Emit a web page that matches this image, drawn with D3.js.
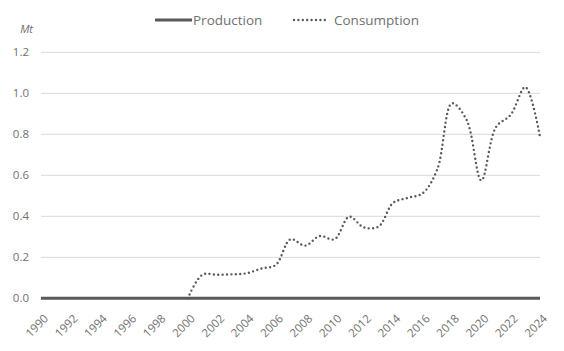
<!DOCTYPE html>
<html>
<head>
<meta charset="utf-8">
<script src="https://cdn.jsdelivr.net/npm/d3@7"></script>
<style>
  body { margin: 0; background: #fff; }
  svg { display: block; font-family: "Open Sans", sans-serif; }
</style>
</head>
<body>
<svg class="main" width="564" height="351"></svg>
<script>
const years = d3.range(1990, 2025);
const production = years.map(() => 0);
const consumptionYears = d3.range(2000, 2025);
const consumption = [
  0, 0.115, 0.115, 0.117, 0.122, 0.145, 0.163, 0.288, 0.257, 0.304,
  0.288, 0.398, 0.346, 0.35, 0.466, 0.49, 0.512, 0.629, 0.951, 0.87,
  0.575, 0.835, 0.895, 1.03, 0.788
];
const yTicks = [0, 0.2, 0.4, 0.6, 0.8, 1.0, 1.2];
const xTicks = d3.range(1990, 2025, 2);

const layout = { left: 41, right: 540, top: 52.3, bottom: 298.3 };
const ink = "#595959";
const labelInk = "#707070";

const svg = d3.select(".main");

const x = d3.scaleLinear().domain([1990, 2024]).range([layout.left, layout.right]);
const y = d3.scaleLinear().domain([0, 1.2]).range([layout.bottom, layout.top]);

// gridlines
svg.append("g")
  .selectAll("line")
  .data(yTicks.filter(d => d > 0))
  .join("line")
  .attr("x1", layout.left)
  .attr("x2", layout.right)
  .attr("y1", d => y(d))
  .attr("y2", d => y(d))
  .attr("stroke", "#d9d9d9")
  .attr("stroke-width", 1);

// y labels
svg.append("g")
  .selectAll("text")
  .data(yTicks)
  .join("text")
  .attr("x", 29)
  .attr("y", d => y(d))
  .attr("dy", "0.35em")
  .attr("text-anchor", "end")
  .attr("font-size", 11.5)
  .attr("fill", labelInk)
  .text(d => d.toFixed(1));

svg.append("text")
  .attr("x", 33)
  .attr("y", 33)
  .attr("text-anchor", "end")
  .attr("font-size", 11)
  .attr("font-style", "italic")
  .attr("fill", labelInk)
  .text("Mt");

// x labels, rotated
svg.append("g")
  .selectAll("text")
  .data(xTicks)
  .join("text")
  .attr("transform", d => `translate(${x(d) + 8},${layout.bottom + 21}) rotate(-45)`)
  .attr("text-anchor", "end")
  .attr("font-size", 11.5)
  .attr("fill", labelInk)
  .text(d => d);

const line = d3.line()
  .x(d => x(d[0]))
  .y(d => y(d[1]))
  .curve(d3.curveCatmullRom.alpha(0.5));

// consumption, dotted
svg.append("path")
  .datum(consumptionYears.map((yr, i) => [yr, consumption[i]]))
  .attr("d", line)
  .attr("fill", "none")
  .attr("stroke", ink)
  .attr("stroke-width", 2.4)
  .attr("stroke-linecap", "round")
  .attr("stroke-dasharray", "0 4.4");

// production
svg.append("path")
  .datum(years.map((yr, i) => [yr, production[i]]))
  .attr("d", line)
  .attr("fill", "none")
  .attr("stroke", ink)
  .attr("stroke-width", 3);

// legend
const legend = svg.append("g").attr("transform", "translate(0,20)");
legend.append("line")
  .attr("x1", 155).attr("x2", 192)
  .attr("stroke", ink).attr("stroke-width", 3);
legend.append("text")
  .attr("x", 193).attr("dy", "0.35em")
  .attr("font-size", 13.5).attr("fill", labelInk)
  .text("Production");
legend.append("line")
  .attr("x1", 294).attr("x2", 328)
  .attr("stroke", ink).attr("stroke-width", 2.4)
  .attr("stroke-linecap", "round")
  .attr("stroke-dasharray", "0 4.4");
legend.append("text")
  .attr("x", 334).attr("dy", "0.35em")
  .attr("font-size", 13.5).attr("fill", labelInk)
  .text("Consumption");
</script>
</body>
</html>
